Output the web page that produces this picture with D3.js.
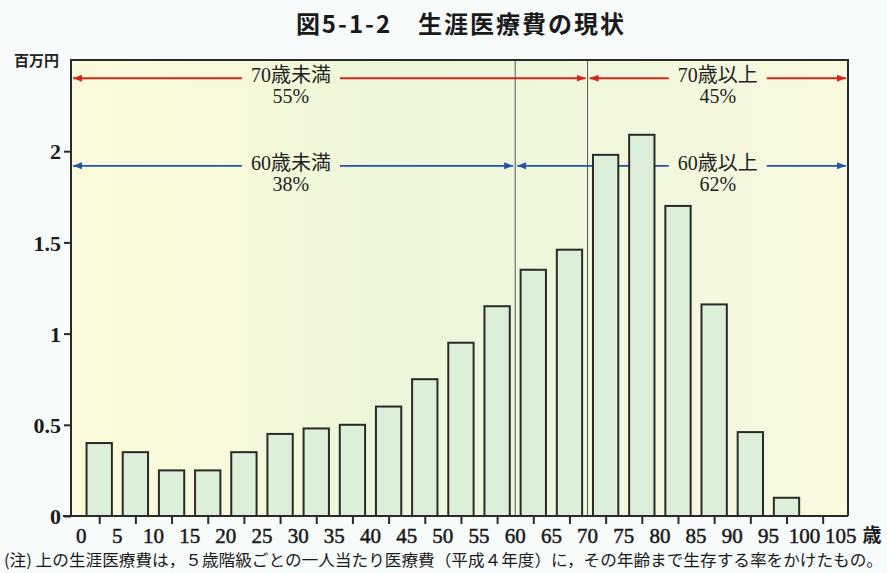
<!DOCTYPE html>
<html lang="ja">
<head>
<meta charset="utf-8">
<title>図5-1-2 生涯医療費の現状</title>
<script src="https://cdn.jsdelivr.net/npm/d3@7"></script>
<style>
  html, body { margin: 0; padding: 0; background: #f7fbfa; }
  svg { display: block; }
  .serif { font-family: "Liberation Serif", "Noto Sans CJK JP", serif; }
  .gothic { font-family: "Noto Sans CJK JP", sans-serif; }
</style>
</head>
<body>
<div id="chart"></div>
<script>
// 5歳階級ごとの生涯医療費 (百万円)
const ageGroups = [0, 5, 10, 15, 20, 25, 30, 35, 40, 45, 50, 55, 60, 65, 70, 75, 80, 85, 90, 95, 100];
const lifetimeCost = [0.40, 0.35, 0.25, 0.25, 0.35, 0.45, 0.48, 0.50, 0.60, 0.75, 0.95, 1.15, 1.35, 1.46, 1.98, 2.09, 1.70, 1.16, 0.46, 0.10, 0];

const xTickLabels = ["0", "5", "10", "15", "20", "25", "30", "35", "40", "45", "50", "55", "60", "65", "70", "75", "80", "85", "90", "95", "100", "105"];
const yTickValues = [0, 0.5, 1, 1.5, 2];

// age splits shown by vertical lines and arrows
const splitAges = [60, 70];
const spanLabels = ["70歳未満", "70歳以上", "60歳未満", "60歳以上"];
const spanShares = ["55%", "45%", "38%", "62%"];
const spanFrom = [null, 70, null, 60]; // null = axis start
const spanTo = [70, null, 60, null]; // null = axis end
const spanLabelAge = [29, 88, 29, 88];

const titleText = "図5-1-2　生涯医療費の現状";
const unitText = "百万円";
const ageUnitText = "歳";
const noteText = "(注) 上の生涯医療費は，５歳階級ごとの一人当たり医療費（平成４年度）に，その年齢まで生存する率をかけたもの。";

class LifetimeCostChart {
  constructor(_parentElement, _data, _spans) {
    this.parentElement = _parentElement;
    this.data = _data;
    this.spans = _spans;
    this.initVis();
  }

  initVis() {
    let vis = this;

    vis.width = 887;
    vis.height = 573;
    vis.margin = { top: 60, right: 39, bottom: 57, left: 71 };

    vis.svg = d3
      .select("#" + vis.parentElement)
      .append("svg")
      .attr("width", vis.width)
      .attr("height", vis.height)
      .attr("viewBox", [0, 0, vis.width, vis.height]);

    const defs = vis.svg.append("defs");

    const grad = defs
      .append("linearGradient")
      .attr("id", "plot-bg")
      .attr("x1", "0%")
      .attr("x2", "100%");
    [
      [0, "#fbfbdb"],
      [0.2, "#f7f9da"],
      [0.4, "#edf6d9"],
      [0.55, "#eef7db"],
      [0.75, "#f2f8dd"],
      [1, "#f9f9df"],
    ].forEach(([o, c]) => grad.append("stop").attr("offset", o).attr("stop-color", c));

    vis.arrowColors = { red: "#d3271c", blue: "#2452a8" };
    Object.entries(vis.arrowColors).forEach(([name, c]) => {
      defs
        .append("marker")
        .attr("id", "arrow-" + name)
        .attr("viewBox", "0 0 9 7")
        .attr("refX", 9)
        .attr("refY", 3.5)
        .attr("markerWidth", 9)
        .attr("markerHeight", 7)
        .attr("markerUnits", "userSpaceOnUse")
        .attr("orient", "auto-start-reverse")
        .append("path")
        .attr("d", "M0,0L9,3.5L0,7Z")
        .attr("fill", c);
    });

    vis.x = d3
      .scaleLinear()
      .domain([-1.4, 106])
      .range([vis.margin.left, vis.width - vis.margin.right]);

    vis.y = d3
      .scaleLinear()
      .domain([0, 2.5])
      .range([vis.height - vis.margin.bottom, vis.margin.top]);

    vis.plotLeft = vis.x.range()[0];
    vis.plotRight = vis.x.range()[1];
    vis.plotTop = vis.y.range()[1];
    vis.plotBottom = vis.y.range()[0];

    // plot background
    vis.svg
      .append("rect")
      .attr("x", vis.plotLeft)
      .attr("y", vis.plotTop)
      .attr("width", vis.plotRight - vis.plotLeft)
      .attr("height", vis.plotBottom - vis.plotTop)
      .attr("fill", "url(#plot-bg)");

    vis.title = vis.svg
      .append("text")
      .attr("class", "gothic")
      .attr("x", 461)
      .attr("y", 33)
      .attr("text-anchor", "middle")
      .attr("font-size", 24)
      .attr("font-weight", "bold")
      .attr("letter-spacing", 2)
      .attr("fill", "#1a1a1a")
      .text(titleText);

    vis.svg
      .append("text")
      .attr("class", "gothic")
      .attr("x", vis.plotLeft - 12)
      .attr("y", vis.plotTop + 6)
      .attr("text-anchor", "end")
      .attr("font-size", 15)
      .attr("font-weight", "bold")
      .attr("fill", "#222")
      .text(unitText);

    vis.splitGroup = vis.svg.append("g").attr("class", "splits");
    vis.spanGroup = vis.svg.append("g").attr("class", "spans");
    vis.barsGroup = vis.svg.append("g").attr("class", "bars");
    vis.frameGroup = vis.svg.append("g").attr("class", "frame");
    vis.xAxisGroup = vis.svg.append("g").attr("class", "x-axis axis");
    vis.xLabelGroup = vis.svg.append("g").attr("class", "x-labels");
    vis.yAxisGroup = vis.svg.append("g").attr("class", "y-axis axis");

    vis.svg
      .append("text")
      .attr("class", "gothic")
      .attr("x", 4)
      .attr("y", 566)
      .attr("font-size", 16)
      .attr("textLength", 879)
      .attr("lengthAdjust", "spacingAndGlyphs")
      .attr("fill", "#1a1a1a")
      .text(noteText);

    vis.wrangleData();
  }

  wrangleData() {
    let vis = this;

    vis.displayData = vis.data.filter((d) => d.cost > 0);
    vis.step = vis.x(5) - vis.x(0);

    vis.updateVis();
  }

  updateVis() {
    let vis = this;

    // vertical lines at 60 and 70
    vis.splitGroup
      .selectAll("line")
      .data(splitAges)
      .join("line")
      .attr("x1", (d) => vis.x(d))
      .attr("x2", (d) => vis.x(d))
      .attr("y1", vis.plotTop)
      .attr("y2", vis.plotBottom)
      .attr("stroke", "#555")
      .attr("stroke-width", 1);

    // span arrows with labels
    const span = vis.spanGroup
      .selectAll(".span")
      .data(vis.spans)
      .join("g")
      .attr("class", "span");

    span.each(function (d) {
      const g = d3.select(this);
      const color = vis.arrowColors[d.color];
      const cy = vis.y(d.level);
      const cx = vis.x(d.labelAge);

      const label = g
        .append("text")
        .attr("class", "serif")
        .attr("x", cx)
        .attr("y", cy + 4)
        .attr("text-anchor", "middle")
        .attr("font-size", 20)
        .attr("fill", "#222")
        .text(d.label);

      g.append("text")
        .attr("class", "serif")
        .attr("x", cx)
        .attr("y", cy + 25)
        .attr("text-anchor", "middle")
        .attr("font-size", 20)
        .attr("fill", "#222")
        .text(d.share);

      const half = label.node().getComputedTextLength() / 2 + 9;
      const x0 = (d.from === null ? vis.plotLeft : vis.x(d.from)) + 2;
      const x1 = (d.to === null ? vis.plotRight : vis.x(d.to)) - 2;

      g.selectAll("line")
        .data([
          [x0, cx - half, true],
          [cx + half, x1, false],
        ])
        .join("line")
        .attr("x1", (s) => s[0])
        .attr("x2", (s) => s[1])
        .attr("y1", cy)
        .attr("y2", cy)
        .attr("stroke", color)
        .attr("stroke-width", 1.8)
        .attr("marker-start", (s) => (s[2] ? `url(#arrow-${d.color})` : null))
        .attr("marker-end", (s) => (s[2] ? null : `url(#arrow-${d.color})`));
    });

    // bars
    const barWidth = vis.step * 0.7;
    vis.barsGroup
      .selectAll(".bar")
      .data(vis.displayData)
      .join("rect")
      .attr("class", "bar")
      .attr("x", (d) => vis.x(d.age + 2.5) - barWidth / 2)
      .attr("width", barWidth)
      .attr("y", (d) => vis.y(d.cost))
      .attr("height", (d) => vis.y(0) - vis.y(d.cost))
      .attr("fill", "#dcefd8")
      .attr("stroke", "#2a2a2a")
      .attr("stroke-width", 2);

    // frame: top and right
    vis.frameGroup
      .append("path")
      .attr("d", `M${vis.plotLeft},${vis.plotTop}H${vis.plotRight}V${vis.plotBottom}`)
      .attr("fill", "none")
      .attr("stroke", "#2a2a2a")
      .attr("stroke-width", 2);

    // x axis: ticks at bar centres, labels at group boundaries
    vis.xAxisGroup
      .attr("transform", `translate(0,${vis.plotBottom})`)
      .call(
        d3
          .axisBottom(vis.x)
          .tickValues(ageGroups.map((a) => a + 2.5))
          .tickSize(8)
          .tickFormat("")
          .tickSizeOuter(0)
      )
      .call((g) => g.select(".domain").attr("d", `M${vis.plotLeft - 8},0H${vis.plotRight}`))
      .call((g) => g.selectAll("line, path").attr("stroke", "#2a2a2a").attr("stroke-width", 2));

    vis.xLabelGroup
      .selectAll("text")
      .data(xTickLabels)
      .join("text")
      .attr("class", "serif")
      .attr("x", (d) => vis.x(+d))
      .attr("y", vis.plotBottom + 27)
      .attr("text-anchor", "middle")
      .attr("font-size", 21)
      .attr("stroke", "#1a1a1a")
      .attr("stroke-width", 0.5)
      .attr("fill", "#1a1a1a")
      .text((d) => d);

    vis.xLabelGroup
      .append("text")
      .attr("class", "gothic")
      .attr("x", 872)
      .attr("y", vis.plotBottom + 26)
      .attr("text-anchor", "middle")
      .attr("font-size", 19)
      .attr("font-weight", "bold")
      .attr("fill", "#1a1a1a")
      .text(ageUnitText);

    vis.yAxisGroup
      .attr("transform", `translate(${vis.plotLeft},0)`)
      .call(
        d3
          .axisLeft(vis.y)
          .tickValues(yTickValues)
          .tickSize(7)
          .tickPadding(3)
          .tickFormat((d) => d)
          .tickSizeOuter(0)
      )
      .call((g) => g.select(".domain").attr("d", `M0,${vis.plotTop - 1}V${vis.plotBottom}`))
      .call((g) => g.selectAll("line, path").attr("stroke", "#2a2a2a").attr("stroke-width", 2))
      .call((g) =>
        g
          .selectAll("text")
          .attr("class", "serif")
          .attr("font-size", 22)
          .attr("font-weight", "bold")
          .attr("fill", "#1a1a1a")
          .attr("dy", "0.35em")
      );
  }
}

const chartData = ageGroups.map((age, i) => ({ age, cost: lifetimeCost[i] }));

const spanLevels = [2.4, 2.4, 1.92, 1.92];
const spanColors = ["red", "red", "blue", "blue"];
const chartSpans = spanLabels.map((label, i) => ({
  label,
  share: spanShares[i],
  from: spanFrom[i],
  to: spanTo[i],
  labelAge: spanLabelAge[i],
  level: spanLevels[i],
  color: spanColors[i],
}));

new LifetimeCostChart("chart", chartData, chartSpans);
</script>
</body>
</html>
